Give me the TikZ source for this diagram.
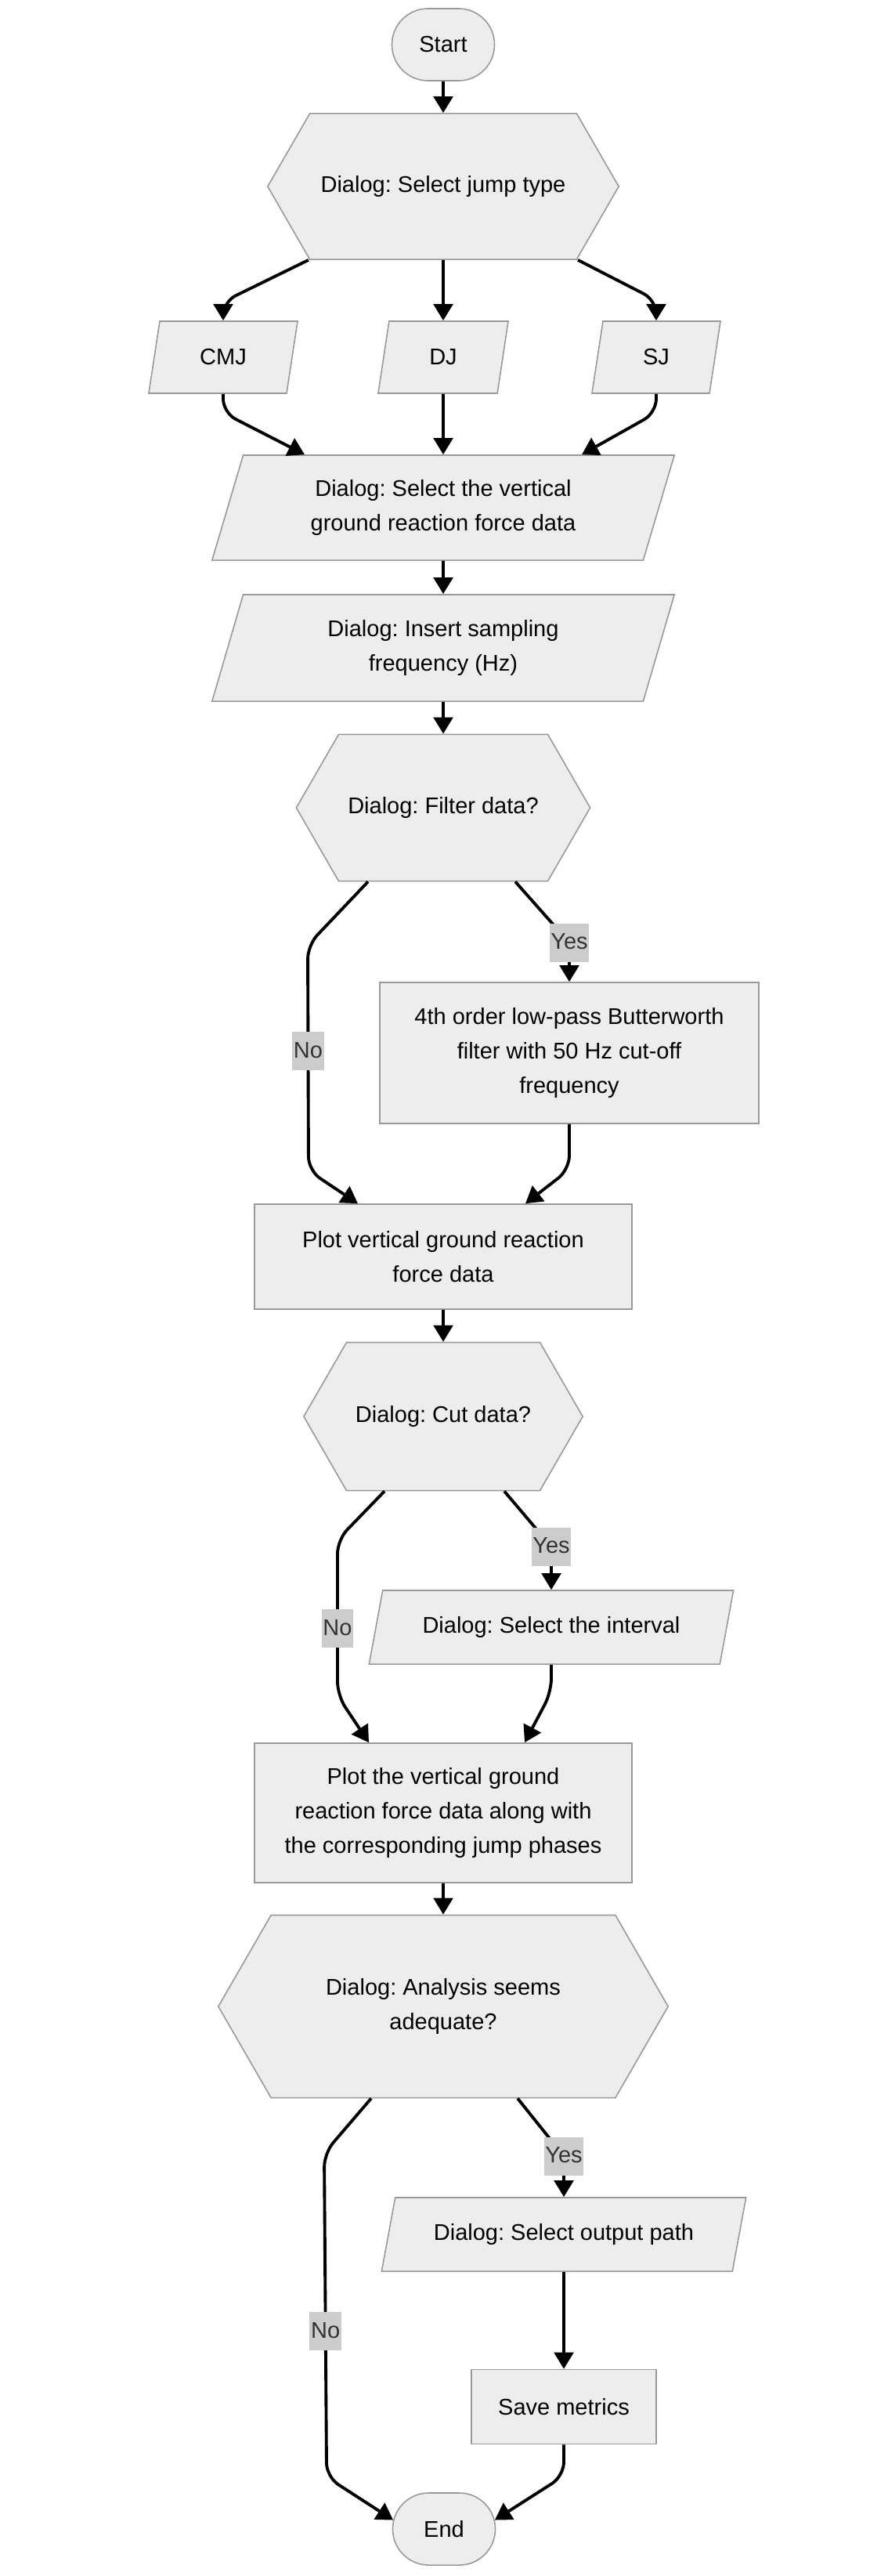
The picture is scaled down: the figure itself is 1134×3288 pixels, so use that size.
\documentclass[tikz,border=0pt]{standalone}
\usepackage{fontspec}
\setmainfont{Liberation Sans}
\frenchspacing
\usetikzlibrary{arrows.meta,calc,shapes.geometric,shapes.misc,shapes.symbols}

\begin{document}
\begin{tikzpicture}[x=0.01cm,y=-0.01cm,
  every node/.style={font=\fontsize{8.25}{12.5}\selectfont,align=center,inner sep=1pt},
  box/.style={draw=black!40,fill=black!7,line width=0.45pt},
  term/.style={box,rounded rectangle,minimum width=1.38cm,minimum height=0.92cm},
  io/.style={box,trapezium,trapezium left angle=63,trapezium right angle=117,trapezium stretches body},
  hex/.style={box,signal,signal to=west and east,signal pointer angle=120},
  lbl/.style={sharp corners,fill=black!20,text=black!80,inner xsep=0.5pt,inner ysep=2pt,text height=0.75em,text depth=0.25em},
  arr/.style={draw,line width=1.1pt,-{Triangle[width=7pt,length=6pt]},rounded corners=5pt}]
\useasboundingbox (0,0) rectangle (1134,3288);

\node[term] (start) at (566,57) {Start};
\node[hex,minimum width=4.48cm,minimum height=1.86cm] (jump) at (566,238) {Dialog: Select jump type};
\node[io,minimum width=1.9cm,minimum height=0.92cm] (cmj) at (285,456) {CMJ};
\node[io,minimum width=1.66cm,minimum height=0.92cm] (dj) at (566,456) {DJ};
\node[io,minimum width=1.64cm,minimum height=0.92cm] (sj) at (838,456) {SJ};
\node[io,minimum width=5.9cm,minimum height=1.34cm] (grf) at (566,648) {Dialog: Select the vertical\\ground reaction force data};
\node[io,minimum width=5.9cm,minimum height=1.36cm] (freq) at (566,827) {Dialog: Insert sampling\\frequency (Hz)};
\node[hex,minimum width=3.75cm,minimum height=1.87cm] (filt) at (566,1031) {Dialog: Filter data?};
\node[box,minimum width=4.84cm,minimum height=1.8cm] (bw) at (727,1344) {4th order low-pass Butterworth\\filter with 50 Hz cut-off\\frequency};
\node[box,minimum width=4.82cm,minimum height=1.34cm] (plotA) at (566,1604) {Plot vertical ground reaction\\force data};
\node[hex,minimum width=3.56cm,minimum height=1.89cm] (cut) at (566,1808) {Dialog: Cut data?};
\node[io,minimum width=4.65cm,minimum height=0.94cm] (intv) at (704,2077) {Dialog: Select the interval};
\node[box,minimum width=4.82cm,minimum height=1.78cm] (plotB) at (566,2314) {Plot the vertical ground\\reaction force data along with\\the corresponding jump phases};
\node[hex,minimum width=5.74cm,minimum height=2.33cm] (ok) at (566,2561) {Dialog: Analysis seems\\adequate?};
\node[io,minimum width=4.65cm,minimum height=0.94cm] (outp) at (720,2852) {Dialog: Select output path};
\node[box,minimum width=2.36cm,minimum height=0.95cm] (save) at (720,3072) {Save metrics};
\node[term] (finish) at (567,3228) {End};

\draw[arr] (start) -- (jump);
\draw[arr] ($(jump.south)+(-172,0)$) -- ($(cmj.north)+(0,-24)$) -- (cmj.north);
\draw[arr] (jump.south) -- (dj.north);
\draw[arr] ($(jump.south)+(172,0)$) -- ($(sj.north)+(0,-26)$) -- (sj.north);
\draw[arr] (cmj.south) -- ++(0,24) -- ($(grf.north)+(-177,0)$);
\draw[arr] (dj.south) -- (grf.north);
\draw[arr] (sj.south) -- ++(0,24) -- ($(grf.north)+(177,0)$);
\draw[arr] (grf) -- (freq);
\draw[arr] (freq) -- (filt);
\draw[arr] ($(filt.south)+(92,0)$) -- ($(bw.north)+(0,-50)$) node[lbl] {Yes} -- (bw.north);
\draw[arr] ($(filt.south)+(-96,0)$) -- ++(-77,81) -- ($(plotA.north)+(-172,-42)$) node[lbl,pos=0.47] {No} -- ($(plotA.north)+(-109,0)$);
\draw[arr] (bw.south) -- ++(0,58) -- ($(plotA.north)+(105,0)$);
\draw[arr] (plotA) -- (cut);
\draw[arr] ($(cut.south)+(78,0)$) -- ($(intv.north)+(0,-55)$) node[lbl] {Yes} -- (intv.north);
\draw[arr] ($(cut.south)+(-75,0)$) -- ++(-60,62) -- ($(plotB.north)+(-135,-60)$) node[lbl,pos=0.57] {No} -- ($(plotB.north)+(-95,0)$);
\draw[arr] (intv.south) -- ++(0,35) -- ($(plotB.north)+(104,0)$);
\draw[arr] (plotB) -- (ok);
\draw[arr] ($(ok.south)+(95,0)$) -- ($(outp.north)+(0,-52)$) node[lbl] {Yes} -- (outp.north);
\draw[arr] ($(ok.south)+(-92,0)$) -- ++(-60,70) -- ($(finish.170)+(-85,-55)$) node[lbl,pos=0.55] {No} -- (finish.170);
\draw[arr] (outp) -- (save);
\draw[arr] (save.south) -- ++(0,40) -- (finish.10);
\end{tikzpicture}
\end{document}
